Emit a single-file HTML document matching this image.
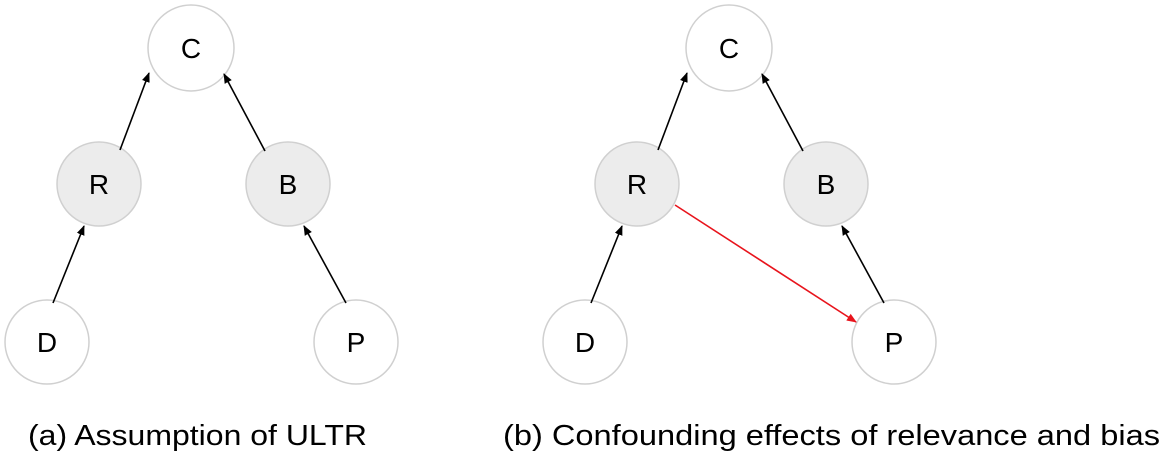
<!DOCTYPE html>
<html><head><meta charset="utf-8"><style>
html,body{margin:0;padding:0;background:#fff;width:1166px;height:459px;overflow:hidden}
svg{display:block}
text{font-family:"Liberation Sans",sans-serif;fill:#000}
</style></head><body>
<svg width="1166" height="459" viewBox="0 0 1166 459">
<defs>
<marker id="a" markerWidth="10" markerHeight="10" refX="9" refY="5" orient="auto" markerUnits="userSpaceOnUse"><path d="M0,1 L10,5 L0,9 Z" fill="#000"/></marker>
<marker id="r" markerWidth="10" markerHeight="10" refX="9" refY="5" orient="auto" markerUnits="userSpaceOnUse"><path d="M0,1 L10,5 L0,9 Z" fill="#e8141c"/></marker>
</defs>
<g id="L">
<g stroke="#d0d0d0" stroke-width="1.5">
<circle cx="191" cy="48" r="43" fill="#fff"/>
<circle cx="99" cy="184" r="42" fill="#ececec"/>
<circle cx="288" cy="184" r="42" fill="#ececec"/>
<circle cx="47" cy="342" r="42" fill="#fff"/>
<circle cx="356" cy="342" r="42" fill="#fff"/>
</g>
<g stroke="#000" stroke-width="1.6" marker-end="url(#a)">
<line x1="120" y1="150" x2="149" y2="73"/>
<line x1="265" y1="151" x2="224" y2="74"/>
<line x1="53" y1="303" x2="84" y2="226"/>
<line x1="346" y1="303" x2="304" y2="226"/>
</g>
<g font-size="28" text-anchor="middle">
<text x="191" y="58">C</text>
<text x="99" y="194">R</text>
<text x="288" y="194">B</text>
<text x="47" y="352">D</text>
<text x="356" y="352">P</text>
</g>
</g>
<use href="#L" x="538" y="0"/>
<line x1="675" y1="205" x2="856" y2="322" stroke="#e8141c" stroke-width="1.6" marker-end="url(#r)"/>
<text x="28" y="445" font-size="29" textLength="339" lengthAdjust="spacingAndGlyphs">(a) Assumption of ULTR</text>
<text x="503" y="445" font-size="29" textLength="657" lengthAdjust="spacingAndGlyphs">(b) Confounding effects of relevance and bias</text>
</svg>
</body></html>
